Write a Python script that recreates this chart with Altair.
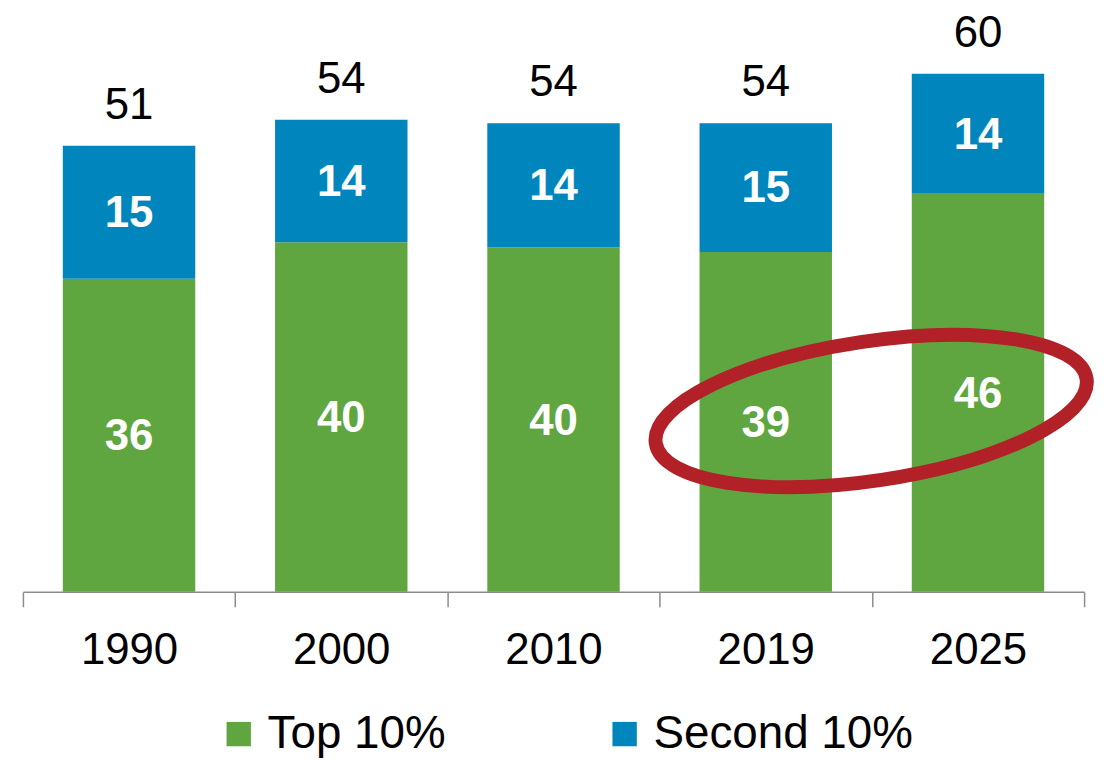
import altair as alt
import pandas as pd

years = ["1990", "2000", "2010", "2019", "2025"]
top10 = [36.0, 40.2, 39.6, 39.1, 45.8]
second10 = [15.3, 14.1, 14.3, 14.8, 13.8]
groups = ["Top 10%", "Second 10%"]
colors = ["#60A640", "#0085BD"]

rows = []
for y, a, b in zip(years, top10, second10):
    rows.append({"year": y, "group": groups[0], "value": a, "start": 0.0, "end": a})
    rows.append({"year": y, "group": groups[1], "value": b, "start": a, "end": a + b})
df = pd.DataFrame(rows)
df["mid"] = (df["start"] + df["end"]) / 2
tot = pd.DataFrame({"year": years, "total": [a + b for a, b in zip(top10, second10)]})

FONT = "Liberation Sans"
xscale = alt.Scale(paddingInner=0, paddingOuter=0)
xenc = alt.X("year:N", sort=years, title=None, scale=xscale,
             axis=alt.Axis(labelAngle=0, labelFontSize=44, labelFont=FONT, labelColor="black",
                           domainColor="#8c8c8c", tickColor="#8c8c8c", domainWidth=1.5,
                           tickWidth=1.5, tickSize=15, tickBand="extent", labelPadding=22,
                           grid=False))
yscale = alt.Scale(domain=[0, 66], nice=False)

bars = alt.Chart(df).mark_bar(width=alt.RelativeBandSize(0.624)).encode(
    x=xenc,
    y=alt.Y("start:Q", scale=yscale, axis=None),
    y2="end:Q",
    color=alt.Color("group:N", scale=alt.Scale(domain=groups, range=colors),
                    sort=groups, legend=alt.Legend(title=None)),
)

inner = alt.Chart(df).mark_text(color="white", fontWeight="bold", fontSize=44, font=FONT,
                                baseline="middle", dy=2).encode(
    x=alt.X("year:N", sort=years),
    y=alt.Y("mid:Q", scale=yscale),
    text=alt.Text("value:Q", format=".0f"),
)

totals = alt.Chart(tot).mark_text(color="black", fontSize=44, font=FONT,
                                  baseline="alphabetic", dy=-27).encode(
    x=alt.X("year:N", sort=years),
    y=alt.Y("total:Q", scale=yscale),
    text=alt.Text("total:Q", format=".0f"),
)

ellipse_path = ("M 1.473 -0.148 A 1 0.32 -8.5 1 0 -0.505 0.148 "
                "A 1 0.32 -8.5 1 0 1.473 -0.148 Z")
ellipse = alt.Chart(pd.DataFrame({"k": [0]})).mark_point(
    shape=ellipse_path, size=191844, filled=False, stroke="#B22028",
    strokeWidth=14, opacity=1,
).encode(
    x=alt.datum("2019"),
    y=alt.datum(20.8),
)

chart = alt.layer(bars, inner, ellipse, totals).properties(
    width=1067, height=577,
    autosize=alt.AutoSizeParams(type="none"),
    padding={"left": 15, "top": 8, "right": 20, "bottom": 168},
).configure_view(stroke=None).configure_legend(
    orient="none", legendX=194, legendY=697, direction="horizontal",
    symbolType="square", symbolSize=600, symbolStrokeWidth=0,
    labelFontSize=46, labelFont=FONT, labelColor="black", labelOffset=6,
    labelLimit=600, columnPadding=156, padding=0,
)

chart.save("out.html", embed_options={"renderer": "svg", "actions": False})
